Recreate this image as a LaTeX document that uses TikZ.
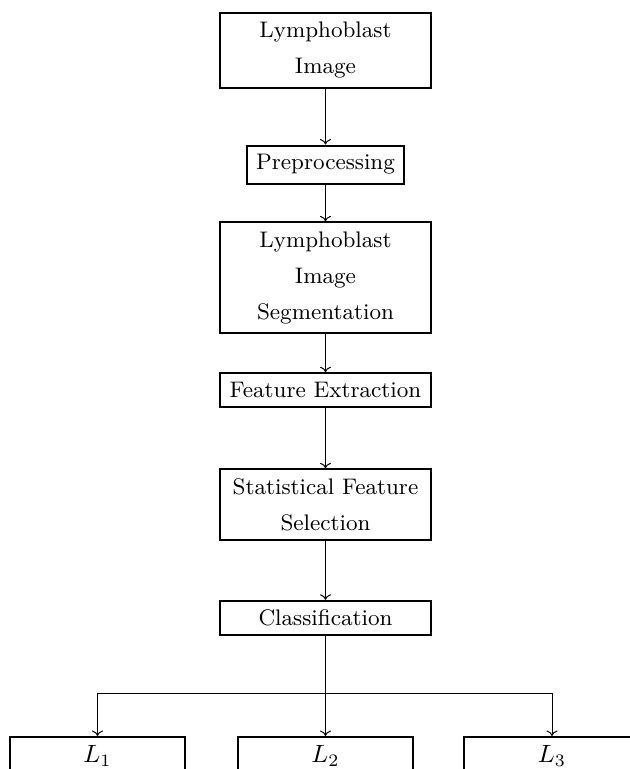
\documentclass[tikz,border=0pt]{standalone}
\usetikzlibrary{arrows.meta}
\begin{document}
\begin{tikzpicture}[x=0.4pt,y=-0.4pt,
  stage/.style={draw,line width=0.8pt,align=center,minimum width=84.4pt,
    inner sep=3.6pt,font=\fontsize{9}{14.4}\selectfont},
  small/.style={draw,line width=0.8pt,align=center,inner sep=3.6pt,
    font=\fontsize{9}{14.4}\selectfont},
  leaf/.style={draw,line width=0.8pt,minimum width=70pt,minimum height=15pt,
    anchor=north,inner sep=3.4pt,font=\fontsize{10}{12}\selectfont},
  arr/.style={line width=0.4pt,-{To[length=2.2pt,width=4.4pt]}}]
  \useasboundingbox (0,0) rectangle (629,769);

  % processing pipeline
  \node[stage] (img) at (325.5,50.5) {Lymphoblast\\Image};
  \node[small] (pre) at (325.5,164.5) {Preprocessing};
  \node[stage] (seg) at (325.5,277.5) {Lymphoblast\\Image\\Segmentation};
  \node[stage] (fe)  at (325.5,390) {Feature Extraction};
  \node[stage] (sfs) at (325.5,504.5) {Statistical Feature\\Selection};
  \node[stage] (cls) at (325.5,618) {Classification};

  % output classes
  \node[leaf] (l1) at (97.5,736) {$L_1$};
  \node[leaf] (l2) at (325.5,736) {$L_2$};
  \node[leaf] (l3) at (552,736) {$L_3$};

  \draw[arr] (img) -- (pre);
  \draw[arr] (pre) -- (seg);
  \draw[arr] (seg) -- (fe);
  \draw[arr] (fe) -- (sfs);
  \draw[arr] (sfs) -- (cls);

  % branching to the classes
  \coordinate (split) at (325.5,693);
  \draw[line width=0.4pt] (split -| l1.north) -- (split -| l3.north);
  \draw[arr] (cls) -- (l2);
  \draw[arr] (split -| l1.north) -- (l1.north);
  \draw[arr] (split -| l3.north) -- (l3.north);
\end{tikzpicture}
\end{document}
